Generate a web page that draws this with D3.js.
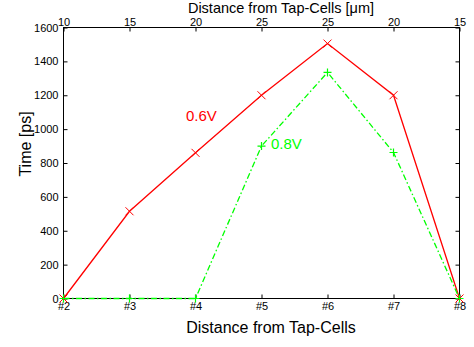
<!DOCTYPE html>
<html>
<head>
<meta charset="utf-8">
<script src="https://cdn.jsdelivr.net/npm/d3@7"></script>
<style>
  body { margin: 0; background: #fff; }
  svg { display: block; font-family: "Liberation Sans", Arial, sans-serif; }
</style>
</head>
<body>
<div id="chart"></div>
<script>
// data
const categories = ['#2', '#3', '#4', '#5', '#6', '#7', '#8'];
const topLabels = ['10', '15', '20', '25', '25', '20', '15'];
const series06 = [0, 515, 860, 1200, 1505, 1200, 0];
const series08 = [0, 0, 0, 900, 1335, 862, 0];
const yTicks = [0, 200, 400, 600, 800, 1000, 1200, 1400, 1600];

const width = 474, height = 347;
const margin = { top: 27, right: 15, bottom: 49, left: 63 };
const plotW = width - margin.left - margin.right;
const plotH = height - margin.top - margin.bottom;

const svg = d3.select('#chart').append('svg')
  .attr('width', width)
  .attr('height', height);

const g = svg.append('g')
  .attr('transform', `translate(${margin.left + 0.5},${margin.top + 0.5})`);

const x = d3.scalePoint().domain(categories).range([0, plotW]);
const y = d3.scaleLinear().domain([0, 1600]).range([plotH, 0]);

// ===== axes =====
const tickLen = 4;
const styleAxis = sel => {
  sel.select('.domain').remove();
  sel.selectAll('line').attr('stroke', '#000');
  sel.selectAll('text').attr('font-size', 11).attr('fill', '#000');
};

// bottom
g.append('g')
  .attr('transform', `translate(0,${plotH})`)
  .call(d3.axisBottom(x).tickSizeInner(-tickLen).tickSizeOuter(0).tickPadding(4))
  .call(styleAxis);

// top (distance in um)
g.append('g')
  .call(d3.axisTop(x).tickSizeInner(-tickLen).tickSizeOuter(0).tickPadding(2)
    .tickFormat((d, i) => topLabels[i]))
  .call(styleAxis);

// left
g.append('g')
  .call(d3.axisLeft(y).tickValues(yTicks).tickSizeInner(-tickLen).tickSizeOuter(0).tickPadding(5)
    .tickFormat(d3.format('d')))
  .call(styleAxis);

// right
g.append('g')
  .attr('transform', `translate(${plotW},0)`)
  .call(d3.axisRight(y).tickValues(yTicks).tickSizeInner(-tickLen).tickSizeOuter(0).tickFormat(''))
  .call(styleAxis);

// frame
g.append('rect')
  .attr('width', plotW)
  .attr('height', plotH)
  .attr('fill', 'none')
  .attr('stroke', '#000');

// ===== lines =====
const line = d3.line()
  .x((d, i) => x(categories[i]))
  .y(d => y(d));

g.append('path')
  .datum(series06)
  .attr('d', line)
  .attr('fill', 'none')
  .attr('stroke', '#ff0000')
  .attr('stroke-width', 1.3);

g.append('path')
  .datum(series08)
  .attr('d', line)
  .attr('fill', 'none')
  .attr('stroke', '#00ff00')
  .attr('stroke-width', 1.3)
  .attr('stroke-dasharray', '6,2.5,1.5,2.5');

// markers
const m = 4;
g.selectAll('.mx')
  .data(series06)
  .join('path')
  .attr('class', 'mx')
  .attr('d', (d, i) => {
    const cx = x(categories[i]), cy = y(d);
    return `M${cx - m},${cy - m}L${cx + m},${cy + m}M${cx - m},${cy + m}L${cx + m},${cy - m}`;
  })
  .attr('stroke', '#ff0000')
  .attr('stroke-width', 1);

g.selectAll('.mp')
  .data(series08)
  .join('path')
  .attr('class', 'mp')
  .attr('d', (d, i) => {
    const cx = x(categories[i]), cy = y(d);
    return `M${cx - m},${cy}L${cx + m},${cy}M${cx},${cy - m}L${cx},${cy + m}`;
  })
  .attr('stroke', '#00ff00')
  .attr('stroke-width', 1.2);

// series labels
svg.append('text')
  .attr('x', 186).attr('y', 121)
  .attr('font-size', 15).attr('fill', '#ff0000')
  .text('0.6V');

svg.append('text')
  .attr('x', 271).attr('y', 149)
  .attr('font-size', 15).attr('fill', '#00ff00')
  .text('0.8V');

// ===== titles =====
svg.append('text')
  .attr('x', margin.left + plotW / 2 + 20)
  .attr('y', 12.5)
  .attr('text-anchor', 'middle')
  .attr('font-size', 14.5)
  .text('Distance from Tap-Cells [μm]');

svg.append('text')
  .attr('x', margin.left + plotW / 2 + 10)
  .attr('y', 333)
  .attr('text-anchor', 'middle')
  .attr('font-size', 16)
  .text('Distance from Tap-Cells');

svg.append('text')
  .attr('transform', 'translate(31,144) rotate(-90)')
  .attr('text-anchor', 'middle')
  .attr('font-size', 16)
  .text('Time [ps]');
</script>
</body>
</html>
